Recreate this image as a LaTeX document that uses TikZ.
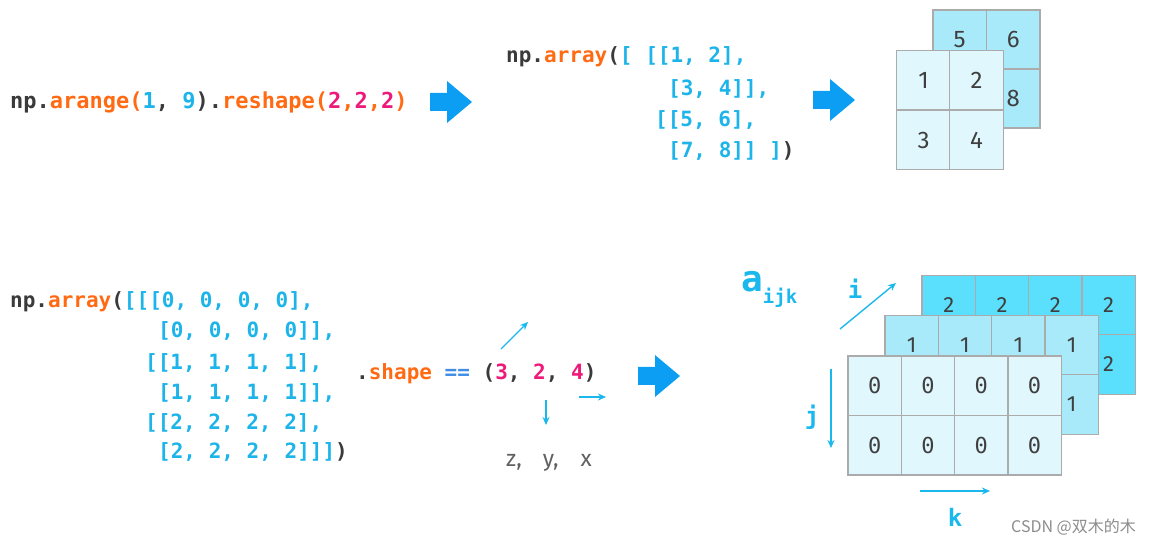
\documentclass[tikz,border=0pt]{standalone}
\usepackage{fontspec}
\usepackage{xcolor}
\usepackage{tikz}
\usetikzlibrary{arrows.meta}
\setmonofont{DejaVu Sans Mono}
\setsansfont{Fira Sans}
\newfontfamily\cjkfont{Noto Sans CJK SC}
\definecolor{codegray}{HTML}{3A3A3A}
\definecolor{codeorange}{HTML}{FF6A13}
\definecolor{codeblue}{HTML}{1DB4EA}
\definecolor{codepink}{HTML}{EE1A7A}
\definecolor{eqblue}{HTML}{3F8DE6}
\definecolor{arrowblue}{HTML}{0C9EF3}
\definecolor{axisblue}{HTML}{1AB8EC}
\definecolor{layerfront}{HTML}{E0F7FD}
\definecolor{layermid}{HTML}{A8EAFA}
\definecolor{layerback}{HTML}{5ADFFC}
\definecolor{gridgray}{HTML}{ABABAB}
\definecolor{digitgray}{HTML}{3F3F3F}
\newcommand{\kwO}[1]{\textcolor{codeorange}{#1}}
\newcommand{\kwB}[1]{\textcolor{codeblue}{#1}}
\newcommand{\kwP}[1]{\textcolor{codepink}{#1}}
\newcommand{\kwE}[1]{\textcolor{eqblue}{#1}}
\tikzset{
  code/.style={anchor=base west, inner sep=0pt, text=codegray,
    font=\ttfamily\bfseries\fontsize{21}{21}\selectfont},
  bigcode/.style={code, font=\ttfamily\bfseries\fontsize{22}{22}\selectfont},
  cell/.style={draw=gridgray, line width=1.2pt, minimum width=53.3pt,
    minimum height=59.5pt, inner sep=0pt, text=digitgray,
    font=\sffamily\fontsize{22}{22}\selectfont},
  tcell/.style={cell, minimum width=53.5pt, minimum height=59pt,
    font=\sffamily\fontsize{24}{24}\selectfont},
  axisarrow/.style={-{Stealth[length=8pt,width=7pt]}, line width=1.4pt, draw=axisblue},
  axislabel/.style={inner sep=0pt, text=axisblue,
    font=\ttfamily\bfseries\fontsize{24}{24}\selectfont},
  blockarrow/.pic={
    \fill[arrowblue] (-21,-9) -- (-4,-9) -- (-4,-21) -- (21,0)
      -- (-4,21) -- (-4,9) -- (-21,9) -- cycle;
  },
}

\begin{document}
\begin{tikzpicture}[x=1pt, y=-1pt]
  \useasboundingbox (0,0) rectangle (1163,545);

  % first row: reshape
  \node[bigcode] (reshape) at (10,109)
    {np.\kwO{arange(}\kwB{1}, \kwB{9}).\kwO{reshape(}\kwP{2}\kwO{,}\kwP{2}\kwO{,}\kwP{2}\kwO{)}};
  \pic (arrA) at (451,102) {blockarrow};

  \node[code] (lineA1) at (506,63) {np.\kwO{array}(\kwB{[ [[1, 2],}};
  \node[code] (lineA2) at (668,96) {\kwB{[3, 4]],}};
  \node[code] (lineA3) at (655,127) {\kwB{[[5, 6],}};
  \node[code] (lineA4) at (668,158) {\kwB{[7, 8]] ]})};
  \pic (arrB) at (834,100) {blockarrow};

  % 2x2x2 array
  \foreach \r/\c/\v in {0/0/5,0/1/6,1/0/7,1/1/8}
    \node[tcell, fill=layermid] (back-\r-\c) at ({959.75+53.5*\c},{39.5+59*\r}) {\v};
  \foreach \r/\c/\v in {0/0/1,0/1/2,1/0/3,1/1/4}
    \node[tcell, fill=layerfront] (front-\r-\c) at ({923.5+53*\c},{80+60*\r}) {\v};

  % second row: shape
  \node[code] (lineB1) at (10,308) {np.\kwO{array}(\kwB{[[[0, 0, 0, 0],}};
  \node[code] (lineB2) at (158,338) {\kwB{[0, 0, 0, 0]],}};
  \node[code] (lineB3) at (145,370) {\kwB{[[1, 1, 1, 1],}};
  \node[code] (lineB4) at (158,400) {\kwB{[1, 1, 1, 1]],}};
  \node[code] (lineB5) at (145,430) {\kwB{[[2, 2, 2, 2],}};
  \node[code] (lineB6) at (158,458) {\kwB{[2, 2, 2, 2]]]})};

  \node[code] (shape) at (356,380) {.\kwO{shape} \kwE{==} (\kwP{3}, \kwP{2}, \kwP{4})};
  \coordinate (z0) at (501,349);
  \coordinate (z1) at (528,322);
  \coordinate (y0) at (546,400);
  \coordinate (y1) at (546,425);
  \coordinate (x0) at (579,397);
  \coordinate (x1) at (606,397);
  \draw[axisarrow, line width=1.1pt] (z0) -- (z1);
  \draw[axisarrow, line width=1.1pt] (y0) -- (y1);
  \draw[axisarrow, line width=1.1pt] (x0) -- (x1);
  \node[anchor=base west, inner sep=0pt, text=codegray!80,
    font=\sffamily\fontsize{23}{23}\selectfont] (zyx) at (506,467)
    {z,\hskip21pt y,\hskip22pt x};
  \pic (arrC) at (659,376) {blockarrow};

  % 3x2x4 array
  \foreach \r in {0,1}
    \foreach \c in {0,...,3}
      \node[cell, fill=layerback] (L2-\r-\c) at ({948.7+53.3*\c},{305+59.5*\r}) {2};
  \foreach \r in {0,1}
    \foreach \c in {0,...,3}
      \node[cell, fill=layermid] (L1-\r-\c) at ({911.7+53.3*\c},{345+59.5*\r}) {1};
  \foreach \r in {0,1}
    \foreach \c in {0,...,3}
      \node[cell, fill=layerfront, font=\ttfamily\fontsize{22}{22}\selectfont]
        (L0-\r-\c) at ({874.7+53.3*\c},{385.75+59.5*\r}) {0};

  % axes
  \node[axislabel, anchor=base west] (aijk) at (741,292)
    {\fontsize{36}{36}\selectfont a\raisebox{-12pt}{\fontsize{19}{19}\selectfont ijk}};
  \coordinate (i0) at (840,329);
  \coordinate (i1) at (896,283);
  \coordinate (j0) at (831,369);
  \coordinate (j1) at (831,448);
  \coordinate (k0) at (920,491);
  \coordinate (k1) at (990,491);
  \draw[axisarrow] (i0) -- (i1);
  \draw[axisarrow] (j0) -- (j1);
  \draw[axisarrow] (k0) -- (k1);
  \node[axislabel] (ilab) at (855,289) {i};
  \node[axislabel] (jlab) at (812,417) {j};
  \node[axislabel] (klab) at (955,517) {k};

  \node[anchor=base west, inner sep=0pt, text=gray!90,
    font=\cjkfont\fontsize{16}{16}\selectfont] (mark) at (1011,532) {CSDN @双木的木};
\end{tikzpicture}
\end{document}
